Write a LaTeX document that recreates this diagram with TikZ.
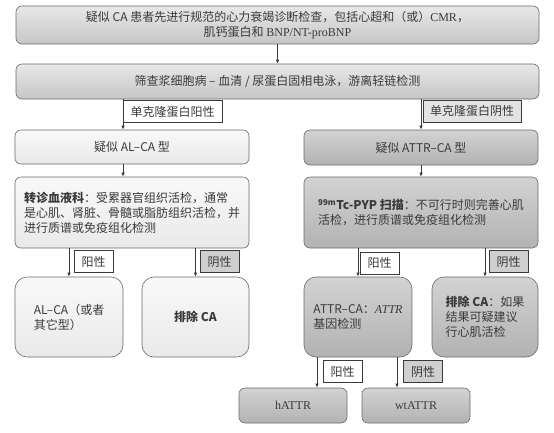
\documentclass[tikz,border=0pt]{standalone}
\usepackage{fontspec}
\setmainfont{Noto Sans CJK SC}
\newfontfamily\tms{Liberation Serif}
\usepgflibrary{arrows.meta}
\definecolor{txt}{HTML}{3A3A3A}
\definecolor{edge}{HTML}{6A6A6A}

\begin{document}
\begin{tikzpicture}[x=1pt,y=-1pt,font=\fontsize{12}{15}\selectfont,text=txt,
  box/.style={draw=edge,rounded corners=#1,line width=0.6pt,align=center,inner sep=3pt},
  box/.default=6pt,
  wide/.style={box,minimum width=523pt,top color=gray!18,bottom color=gray!45},
  pale/.style={box=#1,top color=gray!5,bottom color=gray!17},
  pale/.default=6pt,
  dark/.style={box=#1,top color=gray!35,bottom color=gray!60},
  dark/.default=6pt,
  lbl/.style={draw=txt,line width=0.7pt,fill=#1,inner sep=1pt,minimum height=22pt},
  lbl/.default=white,
  arr/.style={draw=txt,line width=0.8pt,-{Latex[length=4pt,width=3.5pt]}}]

\useasboundingbox (0,0) rectangle (554,432);

\node [wide,minimum height=38pt] (check) at (277.5,25)
  {疑似 CA 患者先进行规范的心力衰竭诊断检查，包括心超和（或）{\tms CMR}，\\肌钙蛋白和 {\tms BNP/NT-proBNP}};
\node [wide,minimum height=35pt] (screen) at (277.5,81.5)
  {筛查浆细胞病 – 血清 / 尿蛋白固相电泳，游离轻链检测};

% AL branch
\node [pale,minimum width=234pt,minimum height=34pt] (alca) at (132,147) {疑似 AL–CA 型};
\node [pale,minimum width=234pt,minimum height=71pt,align=left] (refer) at (132,212.5)
  {\textbf{转诊血液科}：受累器官组织活检，通常\\是心肌、肾脏、骨髓或脂肪组织活检，并\\进行质谱或免疫组化检测};
\node [pale=12pt,minimum width=108pt,minimum height=80pt,align=left] (alres) at (69,317) {AL–CA（或者\\其它型）};
\node [pale=12pt,minimum width=107pt,minimum height=80pt] (excl1) at (195.5,317) {\textbf{排除 CA}};

% ATTR branch
\node [dark,minimum width=234pt,minimum height=35pt] (attrca) at (421,147.5) {疑似 ATTR–CA 型};
\node [dark,minimum width=234pt,minimum height=71pt,align=left] (pyp) at (421,212.5)
  {\textbf{\textsuperscript{99m}Tc-PYP 扫描}：不可行时则完善心肌\\活检，进行质谱或免疫组化检测};
\node [dark=12pt,minimum width=108pt,minimum height=80pt,align=left] (attrgene) at (358,317)
  {ATTR–CA：{\tms\itshape ATTR}\\基因检测};
\node [dark=12pt,minimum width=106pt,minimum height=80pt,align=left] (excl2) at (485,317)
  {\textbf{排除 CA}：如果\\结果可疑建议\\行心肌活检};
\node [dark,minimum width=108pt,minimum height=35pt] (hattr) at (293,405.5) {\tms hATTR};
\node [dark,minimum width=108pt,minimum height=35pt] (wtattr) at (416,405.5) {\tms wtATTR};

\coordinate (lx) at (123,0);
\coordinate (gx1) at (317,0);
\coordinate (gx2) at (397,0);

\draw [arr] (check) -- (screen);
\draw [arr] (screen.south -| lx) -- (alca.north -| lx);
\draw [arr] (alca.south -| lx) -- (refer.north -| lx);
\draw [arr] (screen.south -| attrca) -- (attrca);
\draw [arr] (attrca) -- (pyp);
\draw [arr] (refer.south -| alres) -- (alres);
\draw [arr] (refer.south -| excl1) -- (excl1);
\draw [arr] (pyp.south -| attrgene) -- (attrgene);
\draw [arr] (pyp.south -| excl2) -- (excl2);
\draw [arr] (attrgene.south -| gx1) -- (hattr.north -| gx1);
\draw [arr] (attrgene.south -| gx2) -- (wtattr.north -| gx2);

% result labels
\node [lbl,minimum width=99pt] (monopos) at (172.5,111.5) {单克隆蛋白阳性};
\node [lbl=gray!22,minimum width=98pt] (mononeg) at (472,111) {单克隆蛋白阴性};
\foreach \n/\x/\y/\t/\c in {alpos/93.5/261.5/阳性/white, alneg/219.5/261.5/阴性/gray!38,
  pyppos/379.5/263/阳性/white, pypneg/508.5/261.5/阴性/gray!38,
  genpos/342.5/371.5/阳性/white, genneg/423/371.5/阴性/gray!38}{
  \node [lbl=\c,minimum width=39pt] (\n) at (\x,\y) {\t};
}
\end{tikzpicture}
\end{document}
